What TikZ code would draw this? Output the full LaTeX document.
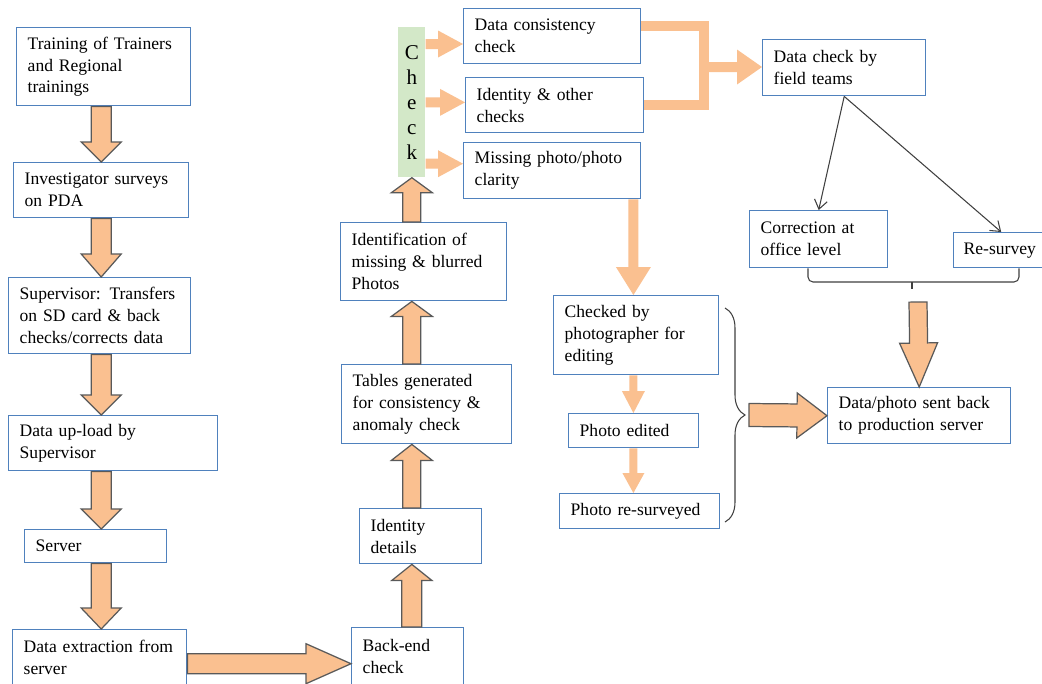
\documentclass[tikz,border=0pt]{standalone}
\usepackage{fontspec}
\setmainfont{Liberation Serif}
\usepackage{tikz}
\usetikzlibrary{arrows.meta,positioning,calc,decorations.pathreplacing}
\definecolor{boxblue}{HTML}{4F81BD}
\definecolor{arroworange}{HTML}{FAC090}
\definecolor{arrowgray}{HTML}{595959}
\definecolor{linegray}{HTML}{404040}
\definecolor{checkgreen}{HTML}{D3E8C8}
\tikzset{
  stagebox/.style={draw=boxblue,line width=0.8pt,fill=white,align=left,anchor=north west,
    inner xsep=2.2mm,inner ysep=0pt,font=\fontsize{10}{12.5}\selectfont},
  checkstrip/.style={fill=checkgreen,draw=none,anchor=north west,align=center,inner sep=0pt,
    minimum width=5.4mm,minimum height=30mm,font=\fontsize{12}{14.2}\selectfont},
  fatline/.style={draw=arrowgray,line width=0.7pt,fill=arroworange,line join=miter},
  lightfill/.style={fill=arroworange,draw=none},
  joinline/.style={draw=arroworange,line width=2mm,line join=miter},
  thinarrow/.style={-{Straight Barb[length=1.8mm,width=2.6mm]},draw=linegray,line width=0.6pt},
  bracegroup/.style={decorate,decoration={brace,amplitude=#1},draw=linegray,line width=0.6pt},
  bracket/.style={draw=linegray,line width=0.6pt,rounded corners=1mm}
}
% block arrow: [style]{from}{to}{shaft half width}{head half width}{head length}
\newcommand{\fatarrow}[6][fatline]{%
  \coordinate (fahead) at ($(#3)!#6!(#2)$);
  \draw[#1] ($(#2)!#4!90:(#3)$) -- ($(fahead)!#4!90:(#3)$) -- ($(fahead)!#5!90:(#3)$)
    -- (#3) -- ($(fahead)!#5!-90:(#3)$) -- ($(fahead)!#4!-90:(#3)$) -- ($(#2)!#4!-90:(#3)$) -- cycle;}

\begin{document}
\begin{tikzpicture}[x=0.2mm,y=0.2mm]
\path[fill=white] (0,0) rectangle (1042,-683);
\useasboundingbox (0,0) rectangle (1042,-683);

\node[stagebox,text width=30.4mm,minimum height=15.6mm] (train) at (16,-27) {Training of Trainers\\and Regional\\trainings};
\node[stagebox,text width=30.6mm,minimum height=11mm] (invest) at (13,-162) {Investigator surveys\\on PDA};
\node[stagebox,text width=32mm,minimum height=15.2mm] (superv) at (8,-277) {Supervisor: Transfers\\on SD card \& back\\checks/corrects data};
\node[stagebox,text width=37.4mm,minimum height=11mm] (upload) at (8,-415) {Data up-load by\\Supervisor};
\node[stagebox,text width=24mm,minimum height=6.6mm] (server) at (24,-529) {Server};
\node[stagebox,text width=30.4mm,minimum height=11.2mm] (extract) at (12,-629) {Data extraction from\\server};

\node[stagebox,text width=18mm,minimum height=11.4mm] (backend) at (351,-627) {Back-end\\check};
\node[stagebox,text width=20mm,minimum height=11mm] (iddet) at (359,-508) {Identity\\details};
\node[stagebox,text width=29.6mm,minimum height=15.8mm] (tables) at (341,-364) {Tables generated\\for consistency \&\\anomaly check};
\node[stagebox,text width=28.8mm,minimum height=15.6mm] (identif) at (340,-222) {Identification of\\missing \& blurred\\Photos};
\node[checkstrip] (check) at (398,-27) {C\\h\\e\\c\\k};

\node[stagebox,text width=31mm,minimum height=11mm] (consist) at (463,-8) {Data consistency\\check};
\node[stagebox,text width=31.2mm,minimum height=11mm] (idother) at (465,-77) {Identity \& other\\checks};
\node[stagebox,text width=31mm,minimum height=11.2mm] (missing) at (463,-142) {Missing photo/photo\\clarity};

\node[stagebox,text width=28.2mm,minimum height=11.2mm] (fieldchk) at (762,-39) {Data check by\\field teams};
\node[stagebox,text width=23.2mm,minimum height=11.4mm] (office) at (749,-210) {Correction at\\office level};
\node[stagebox,text width=15mm,inner xsep=2mm,minimum height=7mm] (resurvey) at (953,-232) {Re-survey};

\node[stagebox,text width=28.6mm,minimum height=15.8mm] (photog) at (553,-295) {Checked by\\photographer for\\editing};
\node[stagebox,text width=21.6mm,minimum height=6.8mm] (edited) at (568,-413) {Photo edited};
\node[stagebox,text width=27.6mm,minimum height=7mm] (photores) at (559,-493) {Photo re-surveyed};
\node[stagebox,text width=32.2mm,minimum height=11.2mm] (sentback) at (827,-387) {Data/photo sent back\\to production server};

\coordinate (exitx) at ([yshift=-1.2mm]extract.east);
\coordinate (chk1) at ([yshift=-3.4mm]check.north east);
\coordinate (chk3) at ([yshift=2.8mm]check.south east);
\coordinate (joint) at (704,-67);
\coordinate (m1) at ([xshift=-1.6mm]missing.south east);
\coordinate (phototip) at (749,-415);
\coordinate (teamtip) at (918,-302);

\fatarrow{invest.north |- train.south}{invest.north}{2mm}{4mm}{4mm}
\fatarrow{invest.south}{invest.south |- superv.north}{2mm}{4mm}{4.6mm}
\fatarrow{invest.south |- superv.south}{invest.south |- upload.north}{2mm}{4mm}{4mm}
\fatarrow{invest.south |- upload.south}{invest.south |- server.north}{2mm}{4mm}{4mm}
\fatarrow{invest.south |- server.south}{invest.south |- extract.north}{2mm}{4mm}{4.2mm}
\fatarrow{exitx}{exitx -| backend.west}{2mm}{4mm}{9mm}
\fatarrow{check.south |- backend.north}{check.south |- iddet.south}{2mm}{4mm}{3.2mm}
\fatarrow{check.south |- iddet.north}{check.south |- tables.south}{1.8mm}{4.1mm}{3.2mm}
\fatarrow{check.south |- tables.north}{check.south |- identif.south}{1.8mm}{4.1mm}{3mm}
\fatarrow{check.south |- identif.north}{check.south}{1.8mm}{4.1mm}{3mm}
\fatarrow{phototip}{sentback.west}{2.3mm}{4.5mm}{6mm}
\fatarrow{teamtip}{sentback.north}{1.8mm}{3.8mm}{8.8mm}

\fatarrow[lightfill]{chk1}{chk1 -| consist.west}{1mm}{2.7mm}{5mm}
\fatarrow[lightfill]{check.east}{check.east -| idother.west}{1mm}{2.7mm}{5mm}
\fatarrow[lightfill]{chk3}{chk3 -| missing.west}{1mm}{2.7mm}{5mm}
\draw[joinline] ([yshift=2mm]consist.east) -| (joint) |- (idother.east);
\fatarrow[lightfill]{joint}{joint -| fieldchk.west}{1mm}{3.5mm}{5mm}
\fatarrow[lightfill]{m1}{m1 |- photog.north}{1mm}{3.5mm}{5.6mm}
\fatarrow[lightfill]{m1 |- photog.south}{m1 |- edited.north}{0.8mm}{2.3mm}{4.4mm}
\fatarrow[lightfill]{m1 |- edited.south}{m1 |- photores.north}{0.8mm}{2.2mm}{4mm}

\draw[thinarrow] (fieldchk.south) -- (office.north);
\draw[thinarrow] (fieldchk.south) -- (resurvey.north);

\draw[bracegroup=4mm] (725,-308) -- (725,-522);
\draw[bracket] (office.south -| 808,0) -- (808,-282) -- (1019,-282) -- (resurvey.south -| 1019,0);
\draw[linegray,line width=0.6pt] (912,-282) -- (912,-289);
\end{tikzpicture}
\end{document}
